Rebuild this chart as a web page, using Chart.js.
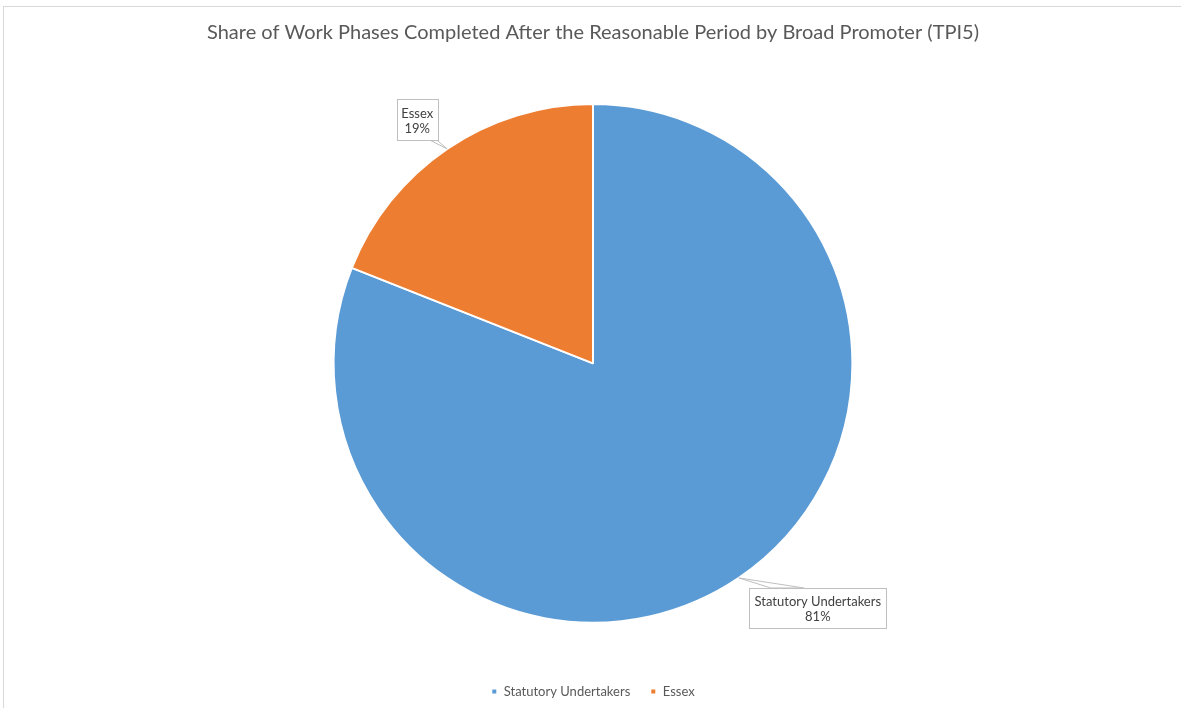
<!DOCTYPE html>
<html>
<head>
<meta charset="utf-8">
<script src="https://cdn.jsdelivr.net/npm/chart.js@4.4.1/dist/chart.umd.min.js"></script>
<style>
  html, body { margin: 0; padding: 0; background: #ffffff; overflow: hidden; }
  #wrap { position: relative; width: 1181px; height: 708px; overflow: hidden; }
  #frame { position: absolute; left: 3px; top: 6px; width: 1300px; height: 800px; border: 1px solid #d9d9d9; pointer-events: none; }
  canvas { position: absolute; left: 0; top: 0; }
</style>
</head>
<body>
<div id="wrap">
  <canvas id="c" width="1181" height="708"></canvas>
  <div id="frame"></div>
</div>
<script>
const titleText = 'Share of Work Phases Completed After the Reasonable Period by Broad Promoter (TPI5)';
const categories = ['Statutory Undertakers', 'Essex'];
const shareValues = [81, 19];
const sliceColors = ['#5B9BD5', '#ED7D31'];

const FONT = 'Lato, "Open Sans", "Liberation Sans", sans-serif';

// callout placement (style only): box center offset from slice anchor, box size, wedge base
const callouts = [
  { dx: 79, dy: 30, w: 137, h: 40, base: [[-47, -20], [-14, -20]] },
  { dx: -30, dy: -29, w: 41, h: 41, base: [[13, 20.5], [20, 20.5]] }
];

const calloutPlugin = {
  id: 'callouts',
  afterDatasetsDraw(chart) {
    const ctx = chart.ctx;
    const meta = chart.getDatasetMeta(0);
    const data = chart.data.datasets[0].data;
    const total = data.reduce((a, b) => a + b, 0);
    meta.data.forEach((arc, i) => {
      const c = callouts[i];
      const mid = (arc.startAngle + arc.endAngle) / 2;
      const ax = arc.x + Math.cos(mid) * arc.outerRadius;
      const ay = arc.y + Math.sin(mid) * arc.outerRadius;
      const bx = ax + c.dx, by = ay + c.dy;
      ctx.save();
      ctx.beginPath();
      ctx.moveTo(ax, ay);
      ctx.lineTo(bx + c.base[0][0], by + c.base[0][1]);
      ctx.lineTo(bx + c.base[1][0], by + c.base[1][1]);
      ctx.closePath();
      ctx.fillStyle = '#ffffff';
      ctx.fill();
      ctx.strokeStyle = '#bfbfbf';
      ctx.lineWidth = 1;
      ctx.stroke();
      ctx.fillStyle = '#ffffff';
      ctx.fillRect(bx - c.w / 2, by - c.h / 2, c.w, c.h);
      ctx.strokeStyle = '#bfbfbf';
      ctx.strokeRect(Math.round(bx - c.w / 2) + 0.5, Math.round(by - c.h / 2) + 0.5, c.w, c.h);
      ctx.fillStyle = '#404040';
      ctx.font = '13px ' + FONT;
      ctx.textAlign = 'center';
      ctx.textBaseline = 'middle';
      const pct = Math.round(data[i] / total * 100) + '%';
      ctx.fillText(chart.data.labels[i], bx, by - 6);
      ctx.fillText(pct, bx, by + 9);
      ctx.restore();
    });
  }
};

new Chart(document.getElementById('c'), {
  type: 'pie',
  data: {
    labels: categories,
    datasets: [{
      data: shareValues,
      backgroundColor: sliceColors,
      borderColor: '#ffffff',
      borderWidth: 2
    }]
  },
  options: {
    responsive: false,
    animation: false,
    layout: { padding: { left: 5, right: 0, top: 0, bottom: 0 } },
    plugins: {
      title: {
        display: true,
        text: titleText,
        color: '#595959',
        font: { family: FONT, size: 20, weight: 'normal' },
        padding: { top: 21, bottom: 58 }
      },
      legend: {
        display: true,
        position: 'bottom',
        title: {
          display: true,
          text: '',
          font: { size: 1 },
          padding: { top: 40, bottom: 0 }
        },
        labels: {
          color: '#595959',
          font: { family: FONT, size: 13 },
          usePointStyle: true,
          pointStyle: 'rect',
          boxWidth: 6,
          boxHeight: 6,
          padding: 20
        }
      },
      tooltip: { enabled: false }
    }
  },
  plugins: [calloutPlugin]
});
</script>
</body>
</html>
